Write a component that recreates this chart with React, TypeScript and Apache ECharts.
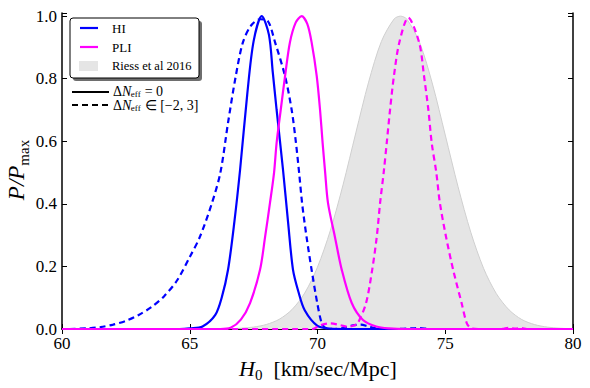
import React, { useEffect, useRef } from "react";
import * as echarts from "echarts";

// ---- data ----
const xTicks = [60, 65, 70, 75, 80];
const yTicks = [0, 0.2, 0.4, 0.6, 0.8, 1.0];

// HI, Delta N_eff = 0 (solid blue)
const hiSolid: number[][] = [
  [60, 0], [64.6, 0], [65.0, 0.002], [65.5, 0.008], [66.0, 0.045], [66.25, 0.1],
  [66.5, 0.19], [66.75, 0.345], [66.97, 0.509], [67.25, 0.75], [67.5, 0.92],
  [67.82, 1.0], [68.1, 0.94], [68.25, 0.82], [68.4, 0.7], [68.65, 0.509],
  [68.85, 0.34], [69.04, 0.19], [69.25, 0.12], [69.5, 0.06], [70.0, 0.01],
  [70.5, 0.001], [71, 0], [80, 0],
];

// HI, Delta N_eff in [-2,3] (dashed blue)
const hiDashed: number[][] = [
  [60.3, 0], [61, 0.002], [61.5, 0.006], [62, 0.014], [62.5, 0.026], [63, 0.045],
  [63.5, 0.07], [64, 0.105], [64.5, 0.155], [65, 0.23], [65.4, 0.295],
  [65.87, 0.403], [66.2, 0.5], [66.5, 0.66], [66.8, 0.808], [67.08, 0.916],
  [67.4, 0.97], [67.75, 0.99], [68.05, 0.985], [68.34, 0.916], [68.73, 0.808],
  [68.99, 0.7], [69.15, 0.6], [69.28, 0.5], [69.4, 0.4], [69.57, 0.295],
  [69.77, 0.189], [69.99, 0.083], [70.16, 0.02], [70.3, 0.004], [70.6, 0],
  [71.0, 0.003], [71.4, 0.012], [71.7, 0.014], [72.0, 0.008], [72.4, 0.001],
  [73.0, 0], [73.7, 0.002], [74.0, 0.003], [74.4, 0], [80, 0],
];

// PLI, Delta N_eff = 0 (solid magenta)
const pliSolid: number[][] = [
  [60, 0], [66.2, 0], [66.6, 0.004], [67.0, 0.03], [67.36, 0.083], [67.75, 0.189],
  [67.95, 0.295], [68.14, 0.403], [68.3, 0.5], [68.4, 0.595], [68.56, 0.7],
  [68.73, 0.808], [68.92, 0.916], [69.15, 0.98], [69.38, 1.0], [69.6, 0.975],
  [69.77, 0.916], [69.97, 0.808], [70.1, 0.7], [70.2, 0.595], [70.3, 0.5],
  [70.41, 0.403], [70.68, 0.295], [70.95, 0.189], [71.34, 0.083], [71.78, 0.029],
  [72.3, 0.008], [72.8, 0.002], [73.5, 0], [80, 0],
];

// PLI, Delta N_eff in [-2,3] (dashed magenta)
const pliDashed: number[][] = [
  [60, 0], [69.8, 0], [70.1, 0.012], [70.5, 0.018], [70.9, 0.012], [71.2, 0.007],
  [71.45, 0.012], [71.58, 0.019], [71.9, 0.083], [72.14, 0.189], [72.32, 0.295],
  [72.45, 0.403], [72.59, 0.5], [72.71, 0.595], [72.84, 0.701], [72.99, 0.808],
  [73.2, 0.915], [73.55, 0.995], [73.98, 0.915], [74.17, 0.808], [74.34, 0.7],
  [74.47, 0.595], [74.65, 0.5], [74.79, 0.403], [75.03, 0.295], [75.31, 0.189],
  [75.64, 0.083], [75.84, 0.019], [76.0, 0.003], [76.3, 0], [77.2, 0],
  [77.5, 0.004], [77.75, 0.001], [77.95, 0.003], [78.2, 0], [80, 0],
];

// Riess et al 2016 (grey band)
const riess: number[][] = [
  [65, 0], [66, 0.0003], [66.5, 0.0009], [67, 0.0025], [67.5, 0.0062], [68, 0.0145],
  [68.5, 0.031], [69, 0.062], [69.5, 0.115], [70, 0.198], [70.5, 0.314],
  [71, 0.461], [71.5, 0.627], [72, 0.789], [72.5, 0.919], [73, 0.991],
  [73.25, 1.0], [73.5, 0.99], [74, 0.915], [74.5, 0.783], [75, 0.62],
  [75.5, 0.455], [76, 0.309], [76.5, 0.194], [77, 0.113], [77.5, 0.061],
  [78, 0.03], [78.5, 0.014], [79, 0.006], [79.5, 0.0024], [80, 0.0009],
];

const BLUE = "#0000ff";
const MAGENTA = "#ff00ff";
const SERIF = "Liberation Serif";

function measure(text: string, font: string): number {
  const c = document.createElement("canvas").getContext("2d");
  if (!c) return text.length * 7;
  c.font = font;
  return c.measureText(text).width;
}

// builds "ΔN_eff <rest>" as separate text pieces so the subscript sits low
function deltaNeff(x: number, y: number, rest: string): any[] {
  const fs = 14;
  const sfs = 9;
  const wD = measure("Δ", `${fs}px ${SERIF}`);
  const wN = measure("N", `italic ${fs}px ${SERIF}`);
  const wS = measure("eff", `${sfs}px ${SERIF}`);
  const base = { fill: "#000", fontFamily: SERIF, verticalAlign: "middle" };
  return [
    { type: "text", z: 52, x, y, style: { ...base, text: "Δ", fontSize: fs } },
    { type: "text", z: 52, x: x + wD, y, style: { ...base, text: "N", fontSize: fs, fontStyle: "italic" } },
    { type: "text", z: 52, x: x + wD + wN - 0.5, y: y + 2.5, style: { ...base, text: "eff", fontSize: sfs } },
    { type: "text", z: 52, x: x + wD + wN + wS, y, style: { ...base, text: rest, fontSize: fs } },
  ];
}

export default function App() {
  const ref = useRef<HTMLDivElement>(null);

  useEffect(() => {
    if (!ref.current) return;
    const chart = echarts.init(ref.current, null, { renderer: "svg" });

    const tickFmt = (v: number) =>
      yTicks.some((t) => Math.abs(t - v) < 1e-6) ? v.toFixed(1) : "";

    const axisLine = { show: true, lineStyle: { color: "#000", width: 1.5 } };
    const axisTick = { show: true, inside: true, length: 5, lineStyle: { color: "#000", width: 1 } };

    const lineSeries = (name: string, data: number[][], color: string, dashed: boolean) => ({
      name,
      type: "line",
      data,
      showSymbol: false,
      symbol: "none",
      smooth: 0.3,
      z: 5,
      lineStyle: { color, width: 2.2, type: dashed ? [6, 4] : "solid" },
    });

    const legendY0 = 28;
    const option: any = {
      animation: false,
      grid: { left: 62, right: 17, top: 13, bottom: 59, containLabel: false },
      xAxis: [
        {
          type: "value",
          min: xTicks[0],
          max: xTicks[xTicks.length - 1],
          interval: 5,
          axisLine,
          axisTick,
          splitLine: { show: false },
          axisLabel: { color: "#000", fontFamily: SERIF, fontSize: 17, margin: 6 },
        },
        {
          type: "value",
          position: "top",
          min: xTicks[0],
          max: xTicks[xTicks.length - 1],
          interval: 5,
          axisLine,
          axisTick,
          splitLine: { show: false },
          axisLabel: { show: false },
        },
      ],
      yAxis: [
        {
          type: "value",
          min: 0,
          max: 1.01,
          interval: 0.2,
          axisLine,
          axisTick,
          splitLine: { show: false },
          axisLabel: { color: "#000", fontFamily: SERIF, fontSize: 17, margin: 5, formatter: tickFmt },
        },
        {
          type: "value",
          position: "right",
          min: 0,
          max: 1.01,
          interval: 0.2,
          axisLine,
          axisTick,
          splitLine: { show: false },
          axisLabel: { show: false },
        },
      ],
      series: [
        {
          name: "Riess et al 2016",
          type: "line",
          data: riess,
          showSymbol: false,
          symbol: "none",
          smooth: 0.3,
          z: 1,
          lineStyle: { color: "#cfcfcf", width: 1 },
          areaStyle: { color: "#e5e5e5", opacity: 1 },
        },
        lineSeries("HI", hiSolid, BLUE, false),
        lineSeries("HI dashed", hiDashed, BLUE, true),
        lineSeries("PLI", pliSolid, MAGENTA, false),
        lineSeries("PLI dashed", pliDashed, MAGENTA, true),
      ],
      graphic: [
        // legend shadow + box
        { type: "rect", z: 50, shape: { x: 73, y: 21, width: 129, height: 60, r: 3 }, style: { fill: "#6e6e6e" } },
        { type: "rect", z: 51, shape: { x: 70, y: 18, width: 129, height: 60, r: 3 }, style: { fill: "#fff", stroke: "#000", lineWidth: 1 } },
        { type: "line", z: 52, shape: { x1: 80, y1: legendY0, x2: 98, y2: legendY0 }, style: { stroke: BLUE, lineWidth: 2.2 } },
        { type: "text", z: 52, x: 112, y: legendY0, style: { text: "HI", fontFamily: SERIF, fontSize: 13, fill: "#000", verticalAlign: "middle" } },
        { type: "line", z: 52, shape: { x1: 80, y1: legendY0 + 19, x2: 98, y2: legendY0 + 19 }, style: { stroke: MAGENTA, lineWidth: 2.2 } },
        { type: "text", z: 52, x: 112, y: legendY0 + 19, style: { text: "PLI", fontFamily: SERIF, fontSize: 13, fill: "#000", verticalAlign: "middle" } },
        { type: "rect", z: 52, shape: { x: 79, y: 61, width: 19, height: 10 }, style: { fill: "#e5e5e5" } },
        { type: "text", z: 52, x: 112, y: 66, style: { text: "Riess et al 2016", fontFamily: SERIF, fontSize: 12.5, fill: "#000", verticalAlign: "middle" } },
        // second legend (line styles)
        { type: "line", z: 52, shape: { x1: 72, y1: 92, x2: 109, y2: 92 }, style: { stroke: "#000", lineWidth: 2.2 } },
        ...deltaNeff(113, 91.5, " = 0"),
        { type: "line", z: 52, shape: { x1: 72, y1: 105, x2: 109, y2: 105 }, style: { stroke: "#000", lineWidth: 2.2, lineDash: [6, 4] } },
        ...deltaNeff(113, 105.5, " ∈ [−2, 3]"),
        // axis titles
        {
          type: "text", x: 318, y: 368,
          style: {
            text: "{i|H}{s|0}{r|  [km/sec/Mpc]}",
            align: "center", verticalAlign: "middle", fill: "#000",
            rich: {
              i: { fontFamily: SERIF, fontStyle: "italic", fontSize: 22, lineHeight: 28, verticalAlign: "middle" },
              s: { fontFamily: SERIF, fontSize: 15, lineHeight: 28, verticalAlign: "bottom" },
              r: { fontFamily: SERIF, fontSize: 22, lineHeight: 28, verticalAlign: "middle" },
            },
          },
        },
        {
          type: "text", x: 16, y: 170, rotation: Math.PI / 2,
          style: {
            text: "{i|P/P}{s|max}",
            align: "center", verticalAlign: "middle", fill: "#000",
            rich: {
              i: { fontFamily: SERIF, fontStyle: "italic", fontSize: 23, lineHeight: 30, verticalAlign: "middle" },
              s: { fontFamily: SERIF, fontSize: 15, lineHeight: 30, verticalAlign: "bottom" },
            },
          },
        },
      ],
    };

    chart.setOption(option);
    return () => chart.dispose();
  }, []);

  return <div ref={ref} style={{ width: 590, height: 388, position: "absolute", left: 0, top: 0 }} />;
}
